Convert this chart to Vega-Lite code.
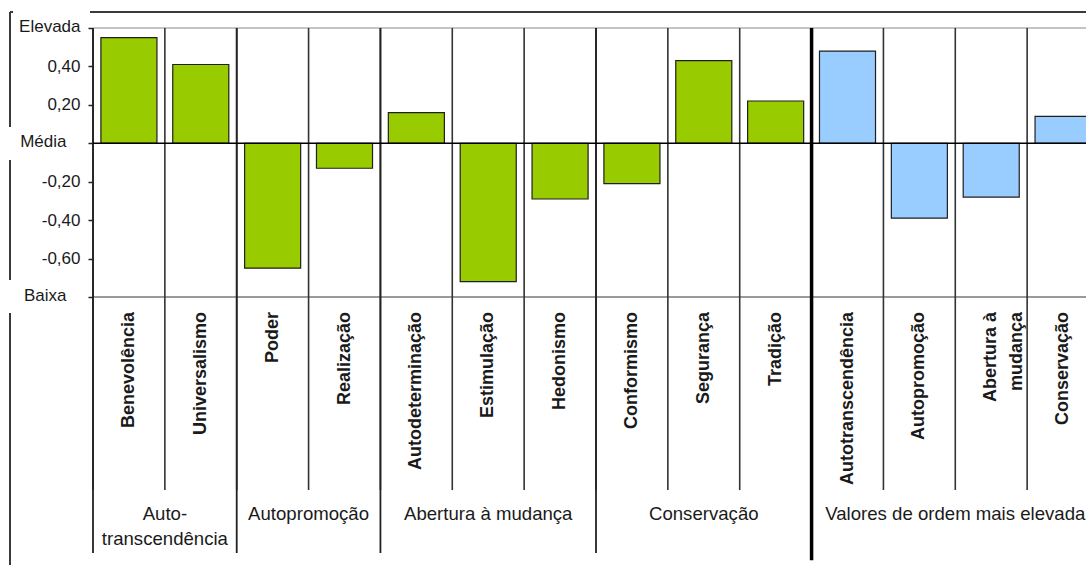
{
  "$schema": "https://vega.github.io/schema/vega-lite/v6.json",
  "width": 1076,
  "height": 553,
  "autosize": "none",
  "padding": {"left": 10, "top": 12, "right": 0, "bottom": 0},
  "background": "white",
  "config": {
    "font": "Liberation Sans",
    "view": {
      "stroke": "#3a3a3a",
      "strokeWidth": 2,
      "strokeDash": [3, 77, 996, 1629, 252, 33, 120, 33, 115, 0]
    },
    "text": {"font": "Liberation Sans", "color": "#1a1a1a"}
  },
  "datasets": {
    "valores": [
      {"valor": "Benevolência", "grupo": "Auto-transcendência", "nivel": "Valores", "media": 0.55},
      {"valor": "Universalismo", "grupo": "Auto-transcendência", "nivel": "Valores", "media": 0.41},
      {"valor": "Poder", "grupo": "Autopromoção", "nivel": "Valores", "media": -0.65},
      {"valor": "Realização", "grupo": "Autopromoção", "nivel": "Valores", "media": -0.13},
      {"valor": "Autodeterminação", "grupo": "Abertura à mudança", "nivel": "Valores", "media": 0.16},
      {"valor": "Estimulação", "grupo": "Abertura à mudança", "nivel": "Valores", "media": -0.72},
      {"valor": "Hedonismo", "grupo": "Abertura à mudança", "nivel": "Valores", "media": -0.29},
      {"valor": "Conformismo", "grupo": "Conservação", "nivel": "Valores", "media": -0.21},
      {"valor": "Segurança", "grupo": "Conservação", "nivel": "Valores", "media": 0.43},
      {"valor": "Tradição", "grupo": "Conservação", "nivel": "Valores", "media": 0.22},
      {"valor": "Autotranscendência", "grupo": "Valores de ordem mais elevada", "nivel": "Ordem superior", "media": 0.48},
      {"valor": "Autopromoção", "grupo": "Valores de ordem mais elevada", "nivel": "Ordem superior", "media": -0.39},
      {"valor": "Abertura à\nmudança", "grupo": "Valores de ordem mais elevada", "nivel": "Ordem superior", "media": -0.28},
      {"valor": "Conservação", "grupo": "Valores de ordem mais elevada", "nivel": "Ordem superior", "media": 0.14}
    ],
    "grupos": [
      {"grupo": "Auto-\ntranscendência", "primeiro": "Benevolência", "centro": "Universalismo", "n": 2},
      {"grupo": "Autopromoção", "primeiro": "Poder", "centro": "Realização", "n": 2},
      {"grupo": "Abertura à mudança", "primeiro": "Autodeterminação", "centro": "Estimulação", "n": 3},
      {"grupo": "Conservação", "primeiro": "Conformismo", "centro": "Segurança", "n": 3},
      {"grupo": "Valores de ordem mais elevada", "primeiro": "Autotranscendência", "centro": "Abertura à\nmudança", "n": 4}
    ]
  },
  "data": {"name": "valores"},
  "layer": [
    {
      "mark": {"type": "bar", "width": {"band": 0.78}, "stroke": "#1f1f1f", "strokeWidth": 1.2},
      "encoding": {
        "x": {
          "field": "valor",
          "type": "nominal",
          "sort": null,
          "axis": null,
          "scale": {
            "domain": ["Benevolência", "Universalismo", "Poder", "Realização", "Autodeterminação", "Estimulação", "Hedonismo", "Conformismo", "Segurança", "Tradição", "Autotranscendência", "Autopromoção", "Abertura à\nmudança", "Conservação"],
            "range": [83, 1089],
            "paddingInner": 0,
            "paddingOuter": 0
          }
        },
        "y": {
          "field": "media",
          "type": "quantitative",
          "scale": {"domain": [-0.8, 0.6], "range": [285, 16], "nice": false, "zero": false},
          "axis": {
            "orient": "left",
            "offset": -83,
            "title": null,
            "domain": false,
            "grid": false,
            "values": [0.6, 0.4, 0.2, 0, -0.2, -0.4, -0.6, -0.8],
            "labelExpr": "datum.value == 0.6 ? 'Elevada' : datum.value == 0 ? 'Média' : datum.value == -0.8 ? 'Baixa' : (datum.value < 0 ? '-' : '') + replace(format(abs(datum.value), '.2f'), '.', ',')",
            "labelFont": "Liberation Sans",
            "labelFontSize": 17,
            "labelColor": "#1a1a1a",
            "labelPadding": {"condition": {"test": "datum.value == 0 || datum.value == -0.8", "value": 22}, "value": 8},
            "labelOffset": {"condition": {"test": "datum.value == 0 || datum.value == 0.6 || datum.value == -0.8", "value": -2}, "value": 0},
            "tickSize": 5,
            "tickColor": "#222222",
            "tickWidth": 1.5
          }
        },
        "color": {
          "field": "nivel",
          "type": "nominal",
          "legend": null,
          "scale": {"domain": ["Valores", "Ordem superior"], "range": ["#99CC00", "#99CCFF"]}
        }
      }
    },
    {
      "data": {"values": [{}]},
      "mark": {"type": "rule", "stroke": "#c4c4c4", "strokeWidth": 2},
      "encoding": {
        "y": {"datum": 0.6},
        "x": {"datum": "Benevolência", "bandPosition": 0, "axis": null},
        "x2": {"datum": "Conservação", "bandPosition": 1}
      }
    },
    {
      "data": {"values": [{}]},
      "mark": {"type": "rule", "stroke": "#9a9a9a", "strokeWidth": 2},
      "encoding": {
        "y": {"datum": -0.8},
        "x": {"datum": "Benevolência", "bandPosition": 0, "axis": null},
        "x2": {"datum": "Conservação", "bandPosition": 1}
      }
    },
    {
      "mark": {"type": "rule", "stroke": "#333333", "strokeWidth": 1.6},
      "encoding": {
        "x": {"field": "valor", "type": "nominal", "bandPosition": 0, "axis": null},
        "y": {"datum": 0.6},
        "y2": {"datum": -1.8045}
      }
    },
    {
      "data": {"name": "grupos"},
      "transform": [{"filter": "datum.grupo != 'Valores de ordem mais elevada'"}],
      "mark": {"type": "rule", "stroke": "#222222", "strokeWidth": 1.8},
      "encoding": {
        "x": {"field": "primeiro", "type": "nominal", "bandPosition": 0, "axis": null},
        "y": {"datum": 0.6},
        "y2": {"datum": -2.132}
      }
    },
    {
      "data": {"name": "grupos"},
      "transform": [{"filter": "datum.grupo == 'Valores de ordem mais elevada'"}],
      "mark": {"type": "rule", "stroke": "#000000", "strokeWidth": 3.5},
      "encoding": {
        "x": {"field": "primeiro", "type": "nominal", "bandPosition": 0, "axis": null},
        "y": {"datum": 0.6},
        "y2": {"datum": -2.17}
      }
    },
    {
      "data": {"values": [{}]},
      "mark": {"type": "rule", "stroke": "#000000", "strokeWidth": 1.6},
      "encoding": {
        "y": {"datum": 0},
        "x": {"datum": "Benevolência", "bandPosition": 0, "axis": null},
        "x2": {"datum": "Conservação", "bandPosition": 1}
      }
    },
    {
      "mark": {
        "type": "text",
        "angle": 270,
        "align": "right",
        "baseline": "middle",
        "fontSize": 18,
        "fontWeight": "bold",
        "lineBreak": "\n",
        "lineHeight": 26
      },
      "encoding": {
        "x": {"field": "valor", "type": "nominal", "axis": null},
        "y": {"datum": -0.878},
        "text": {"field": "valor"}
      }
    },
    {
      "data": {"name": "grupos"},
      "transform": [{"filter": "datum.n % 2 == 0"}],
      "mark": {"type": "text", "align": "center", "baseline": "alphabetic", "fontSize": 18.6, "lineBreak": "\n", "lineHeight": 25},
      "encoding": {
        "x": {"field": "centro", "type": "nominal", "bandPosition": 0, "axis": null},
        "y": {"datum": -1.961},
        "text": {"field": "grupo"}
      }
    },
    {
      "data": {"name": "grupos"},
      "transform": [{"filter": "datum.n % 2 == 1"}],
      "mark": {"type": "text", "align": "center", "baseline": "alphabetic", "fontSize": 18.6, "lineBreak": "\n", "lineHeight": 25},
      "encoding": {
        "x": {"field": "centro", "type": "nominal", "axis": null},
        "y": {"datum": -1.961},
        "text": {"field": "grupo"}
      }
    }
  ]
}
